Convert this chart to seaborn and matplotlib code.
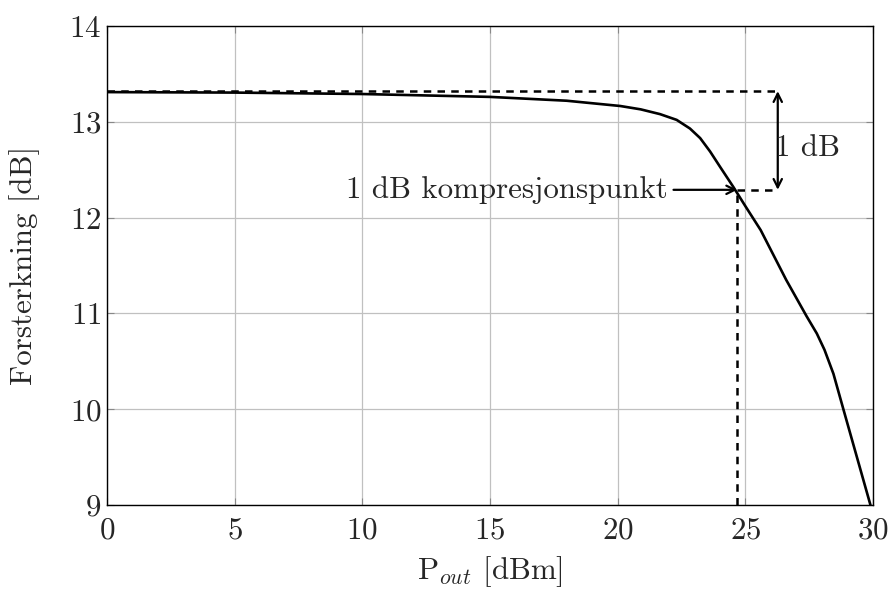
import matplotlib
matplotlib.use("Agg")
import matplotlib.pyplot as plt
import seaborn as sns
import pandas as pd

pout = [0, 5, 10, 15, 18, 20.1, 20.9, 21.66, 22.31, 22.83, 23.23, 23.62, 24.01, 24.53, 25.0,
        25.6, 26.6, 27.4, 27.8, 28.1, 28.45, 28.85, 29.9]
gain = [13.31, 13.305, 13.29, 13.26, 13.22, 13.165, 13.13, 13.08, 13.02, 12.93, 12.83, 12.69, 12.53, 12.32, 12.12,
        11.87, 11.35, 10.97, 10.79, 10.62, 10.37, 9.99, 9.0]

xticks = [0, 5, 10, 15, 20, 25, 30]
yticks = [9, 10, 11, 12, 13, 14]
ref_gain = 13.32
comp_gain = 12.29
comp_x = 24.68
arrow_x = 26.27

sns.set_theme(style="whitegrid")
plt.rcParams["font.family"] = ["cmr10", "DejaVu Serif"]
plt.rcParams["mathtext.fontset"] = "cm"
plt.rcParams["axes.formatter.use_mathtext"] = True
plt.rcParams["axes.unicode_minus"] = False

FS = 22.3

fig = plt.figure(figsize=(8.92, 5.89), dpi=100)
ax = fig.add_axes([107/892, 1-505/589, (873-107)/892, (505-26)/589])

df = pd.DataFrame({"Pout": pout, "Gain": gain})
sns.lineplot(data=df, x="Pout", y="Gain", ax=ax, color="black", lw=1.9)

ax.plot([0, arrow_x], [ref_gain, ref_gain], ls=(0, (3, 2.5)), color="black", lw=1.8)
ax.plot([comp_x, arrow_x], [comp_gain, comp_gain], ls=(0, (3, 2.5)), color="black", lw=1.8)
ax.plot([comp_x, comp_x], [9, comp_gain], ls=(0, (3, 2.5)), color="black", lw=1.8)

ax.annotate("", xy=(arrow_x, comp_gain), xytext=(arrow_x, ref_gain),
            arrowprops=dict(arrowstyle="<->", color="black", lw=1.6, shrinkA=0, shrinkB=0,
                            mutation_scale=15))
ax.text(arrow_x - 0.1, 12.73, "1 dB", fontsize=FS, ha="left", va="center")

ax.annotate("1 dB kompresjonspunkt", xy=(comp_x, comp_gain), xytext=(21.95, comp_gain),
            fontsize=FS, ha="right", va="center",
            arrowprops=dict(arrowstyle="->", color="black", lw=1.6, shrinkA=2, shrinkB=0,
                            mutation_scale=15))

ax.set_xlim(0, 30)
ax.set_ylim(9, 14)
ax.set_xticks(xticks)
ax.set_yticks(yticks)
ax.tick_params(direction="in", length=5, width=0.8, color="#888888", labelsize=FS,
               top=True, right=True, bottom=True, left=True, pad=4)
ax.tick_params(axis="x", pad=8)
ax.grid(True, color="#c0c0c0", lw=0.9)
for s in ax.spines.values():
    s.set_color("black")
    s.set_linewidth(1.0)
ax.set_xlabel(r"P$_{out}$ [dBm]", fontsize=FS, labelpad=7)
ax.set_ylabel("Forsterkning [dB]", fontsize=FS)
ax.yaxis.set_label_coords(-0.087, 0.5)

fig.savefig("out.png", dpi=100)
